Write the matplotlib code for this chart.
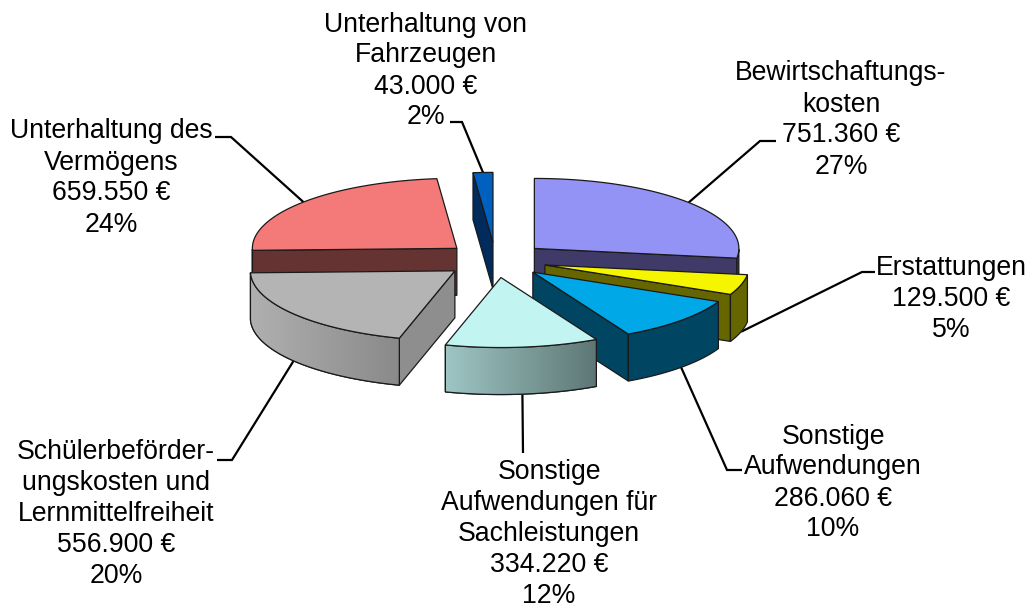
#! /usr/bin/python3

"""
Exploded 3D pie of the school budget cost types, projected by hand onto a flat
axes in pixel units.
"""

from matplotlib import pyplot as plt
from matplotlib.colors import LinearSegmentedColormap
from matplotlib.patches import Polygon
import numpy as np

names = ["Bewirtschaftungs-\nkosten", "Erstattungen", "Sonstige\nAufwendungen",
         "Sonstige\nAufwendungen für\nSachleistungen",
         "Schülerbeförder-\nungskosten und\nLernmittelfreiheit",
         "Unterhaltung des\nVermögens", "Unterhaltung von\nFahrzeugen"]
values = [751360, 129500, 286060, 334220, 556900, 659550, 43000]
amounts = ["751.360 €", "129.500 €", "286.060 €", "334.220 €", "556.900 €", "659.550 €", "43.000 €"]
percents = ["27%", "5%", "10%", "12%", "20%", "24%", "2%"]

top_colors = ["#9393F5", "#F5F500", "#00A8E8", "#C2F4F2", "#B4B4B4", "#F47A7A", "#0060C0"]
wall_colors = ["#3F3A68", "#666600", "#004561", "#5E7776", "#8E8E8E", "#663333", "#002B5C"]
# left and right colour of the rounded wall, None means plain
grad_colors = [None, None, None, ("#9EC6C4", "#5E7776"), ("#B0B0B0", "#8A8A8A"), None, None]

# label centre and leader elbow, in pixels
label_pos = [(841, 120), (951, 299), (833, 483), (549, 534), (116, 514), (111, 178), (426, 71)]
elbows = [[(760, 141), (776, 141)], [(862, 272), (875, 272)], [(727, 470), (742, 470)],
          [(523, 453)], [(232, 460), (217, 460)], [(231, 137), (215, 137)], [(462, 122), (450, 122)]]

# back to front paint order
draw_order = [5, 0, 6, 1, 4, 2, 3]

CX, CY = 495.5, 260
RX, RY = 204.5, 70
DEPTH = 47
EXPLODE = 51.5


def ellipse_point(ang, x0, y0):
    """Angle in degrees, clockwise from the top."""
    a = np.radians(ang)
    return x0 + RX * np.sin(a), y0 - RY * np.cos(a)


def draw_slice(ax, ind, a0, a1, z):
    mid = (a0 + a1) / 2
    ax0, ay0 = ellipse_point(mid, 0, 0)
    x0 = CX + EXPLODE / RX * ax0
    y0 = CY + EXPLODE / RX * ay0

    edge = "#1a1a1a"
    angs = np.linspace(a0, a1, 80)
    xs, ys = ellipse_point(angs, x0, y0)
    top = np.column_stack([np.r_[x0, xs], np.r_[y0, ys]])

    # flat cut faces, only those turned to the viewer
    for a, visible in ((a0, np.sin(np.radians(a0)) < 0), (a1, np.sin(np.radians(a1)) > 0)):
        if visible:
            px, py = ellipse_point(a, x0, y0)
            face = [(x0, y0), (px, py), (px, py + DEPTH), (x0, y0 + DEPTH)]
            ax.add_patch(Polygon(face, fc=wall_colors[ind], ec=edge, lw=0.9, zorder=z))

    # rounded outer wall, only the part that faces the front
    front = angs[(angs >= 90) & (angs <= 270)]
    if len(front) > 1:
        fx, fy = ellipse_point(front, x0, y0)
        wall = np.column_stack([np.r_[fx, fx[::-1]], np.r_[fy, fy[::-1] + DEPTH]])
        patch = Polygon(wall, fc=wall_colors[ind], ec=edge, lw=0.9, zorder=z + 0.2)
        ax.add_patch(patch)
        if grad_colors[ind] is not None:
            cmap = LinearSegmentedColormap.from_list("w", grad_colors[ind])
            im = ax.imshow(np.linspace(0, 1, 256)[None, :], cmap=cmap, aspect="auto", zorder=z + 0.3,
                           extent=(fx.min(), fx.max(), (fy + DEPTH).max(), fy.min()))
            im.set_clip_path(patch)
            ax.add_patch(Polygon(wall, fill=False, ec=edge, lw=0.9, zorder=z + 0.4))

    ax.add_patch(Polygon(top, fc=top_colors[ind], ec=edge, lw=0.9, zorder=z + 0.5))

    # leader line, starts on the visible rim and runs behind the pie
    mx, my = ellipse_point(mid, x0, y0)
    if 90 < mid < 270:
        my += DEPTH
    pts = [(mx, my)] + elbows[ind]
    ax.plot([p[0] for p in pts], [p[1] for p in pts], color="black", lw=1.6, zorder=1,
            solid_capstyle="butt", solid_joinstyle="miter")


if __name__ == "__main__":
    plt.rcParams['font.family'] = ['Liberation Sans', 'DejaVu Sans']

    fig = plt.figure(figsize=(10.29, 6.07), dpi=100)
    ax = fig.add_axes([0, 0, 1, 1])

    fractions = np.array(values) / sum(values)
    ends = np.cumsum(fractions) * 360
    starts = ends - fractions * 360

    for z, ind in enumerate(draw_order):
        draw_slice(ax, ind, starts[ind], ends[ind], 2 + z)

    for ind in range(len(values)):
        text = names[ind] + "\n" + amounts[ind] + "\n" + percents[ind]
        ax.text(label_pos[ind][0], label_pos[ind][1], text, ha="center", va="center",
                fontsize=19.2, linespacing=1.25, color="black", zorder=20)

    ax.set_xlim(0, 1029)
    ax.set_ylim(607, 0)
    ax.axis("off")
    fig.savefig("out.png", dpi=100)
